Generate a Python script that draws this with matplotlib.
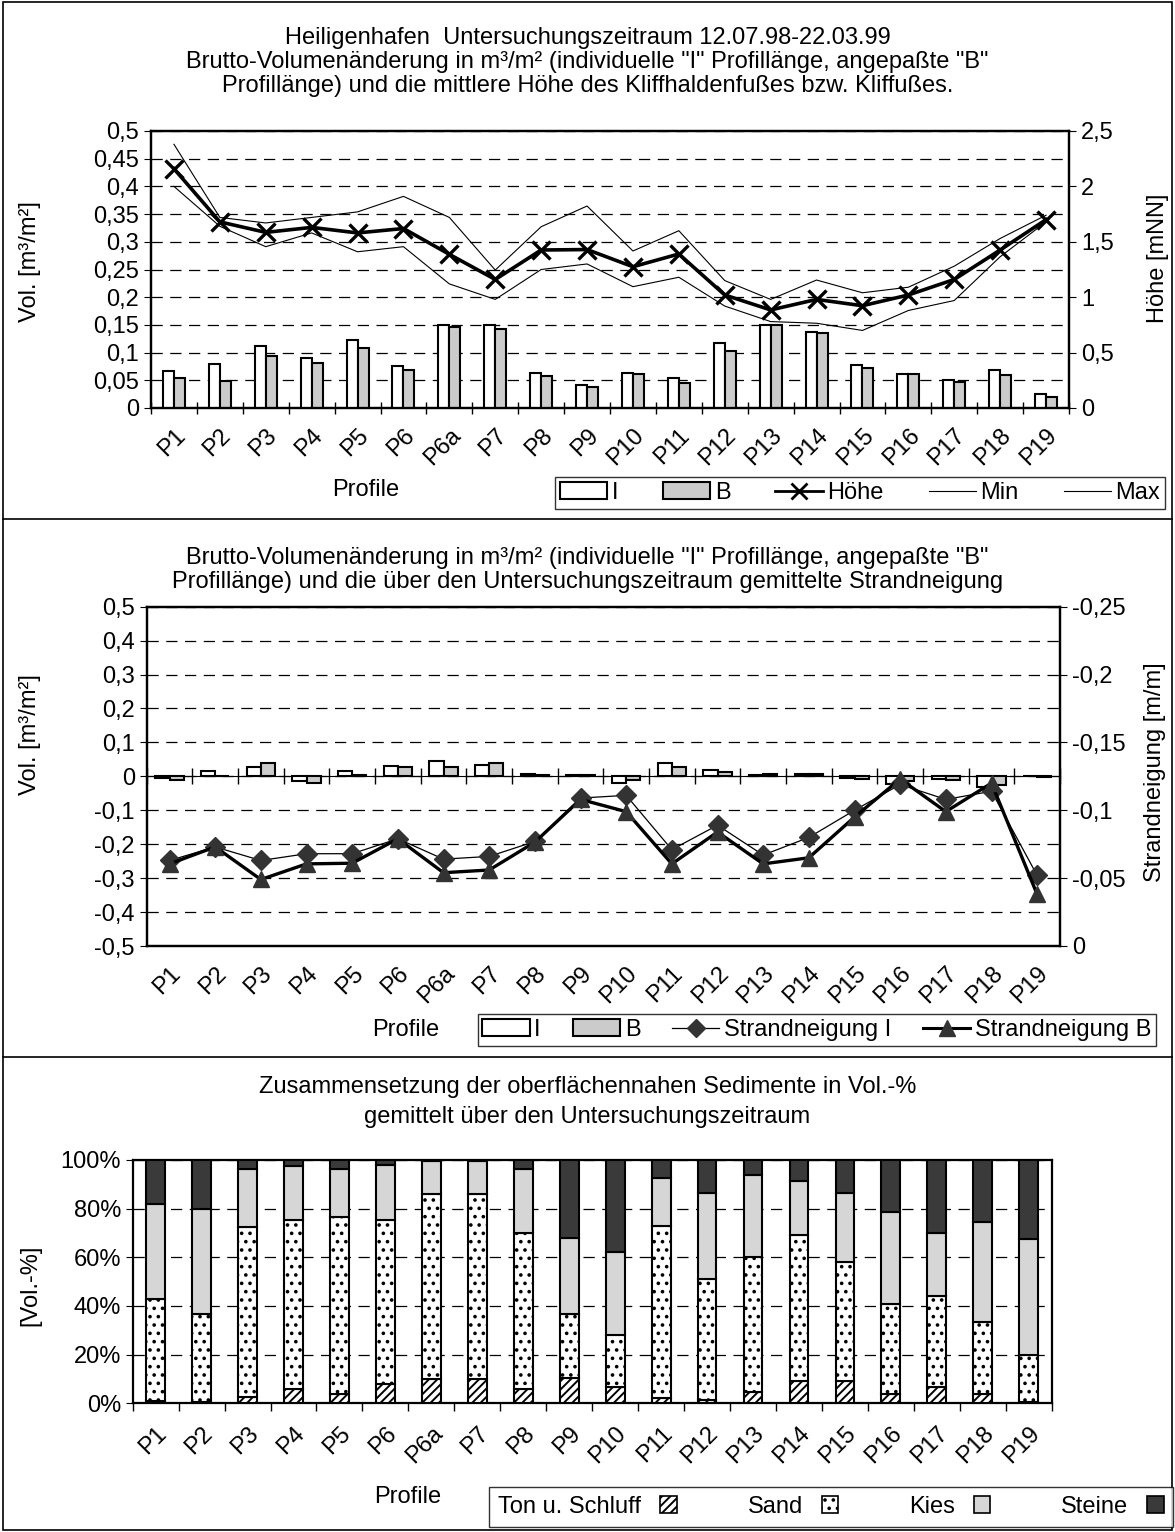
import numpy as np
import matplotlib
matplotlib.use("Agg")
import matplotlib.pyplot as plt
from matplotlib.lines import Line2D
from matplotlib.patches import Patch
from matplotlib.ticker import FuncFormatter

plt.rcParams['font.family'] = ['Liberation Sans', 'DejaVu Sans']
plt.rcParams['hatch.linewidth'] = 1.4

profile = ["P1", "P2", "P3", "P4", "P5", "P6", "P6a", "P7", "P8", "P9", "P10",
           "P11", "P12", "P13", "P14", "P15", "P16", "P17", "P18", "P19"]

# chart 1: Volumenaenderung und Hoehe Kliffhaldenfuss
vol_I = [0.067, 0.079, 0.112, 0.090, 0.123, 0.076, 0.149, 0.149, 0.064, 0.042,
         0.063, 0.054, 0.118, 0.149, 0.138, 0.078, 0.062, 0.051, 0.069, 0.025]
vol_B = [0.054, 0.048, 0.094, 0.082, 0.108, 0.069, 0.146, 0.143, 0.058, 0.038,
         0.062, 0.045, 0.103, 0.149, 0.135, 0.073, 0.061, 0.047, 0.060, 0.020]
hoehe = [2.16, 1.68, 1.585, 1.63, 1.58, 1.62, 1.387, 1.16, 1.426, 1.43,
         1.275, 1.39, 1.02, 0.885, 0.98, 0.923, 1.02, 1.16, 1.426, 1.70]
hoehe_max = [2.38, 1.72, 1.67, 1.72, 1.77, 1.91, 1.72, 1.245, 1.636, 1.823,
             1.417, 1.60, 1.15, 0.98, 1.155, 1.04, 1.09, 1.28, 1.53, 1.74]
hoehe_min = [2.0, 1.64, 1.456, 1.58, 1.41, 1.456, 1.12, 0.98, 1.25, 1.30,
             1.095, 1.18, 0.92, 0.78, 0.765, 0.70, 0.88, 0.97, 1.365, 1.68]

# chart 2: Volumenaenderung und Strandneigung
vol2_I = [-0.006, 0.015, 0.028, -0.015, 0.017, 0.031, 0.046, 0.032, 0.006, 0.005,
          -0.02, 0.038, 0.019, 0.004, 0.008, -0.005, -0.022, -0.008, -0.03, 0.002]
vol2_B = [-0.012, 0.002, 0.038, -0.02, 0.003, 0.029, 0.029, 0.038, 0.005, 0.004,
          -0.01, 0.028, 0.013, 0.007, 0.008, -0.007, -0.015, -0.01, -0.025, -0.002]
neig_I = [-0.063, -0.073, -0.063, -0.068, -0.068, -0.079, -0.064, -0.066, -0.077, -0.109,
          -0.111, -0.071, -0.089, -0.067, -0.080, -0.100, -0.119, -0.108, -0.114, -0.052]
neig_B = [-0.0605, -0.073, -0.049, -0.0605, -0.061, -0.079, -0.054, -0.056, -0.0765, -0.108,
          -0.099, -0.0605, -0.084, -0.0605, -0.065, -0.095, -0.123, -0.099, -0.120, -0.038]

# chart 3: Sedimentzusammensetzung in Vol.-%
ton = [1, 0.5, 2.5, 6, 4, 8, 10, 10, 6, 10.5, 6.5, 2, 1.5, 4.5, 9, 9, 4, 6.5, 4, 0.5]
sand = [42, 36, 70, 69.5, 72.5, 67.5, 76, 76, 64, 26, 21.5, 71, 49.5, 55.5, 60, 49, 37, 37.5, 29.5, 19.5]
kies = [39, 43.5, 24, 22, 20, 22.5, 13.5, 13.5, 26.5, 31.5, 34, 19.5, 35.5, 34, 22.5, 28.5, 37.5, 26, 41, 47.5]
steine = [18, 20, 3.5, 2.5, 3.5, 2, 0.5, 0.5, 3.5, 32, 38, 7.5, 13.5, 6, 8.5, 13.5, 21.5, 30, 25.5, 32.5]

W, H = 1175, 1532
FS = 17
fig = plt.figure(figsize=(W / 100, H / 100), dpi=100)


def box(x0, y0, x1, y1):
    return [x0 / W, 1 - y1 / H, (x1 - x0) / W, (y1 - y0) / H]


def comma(v, pos=None):
    v = round(v, 4) + 0.0
    if v == 0:
        return '0'
    return ('%g' % v).replace('.', ',')


x = np.arange(len(profile))
edges = np.arange(len(profile) + 1) - 0.5
grid_kw = dict(color='black', linestyle=(0, (9, 6)), linewidth=0.9)


def style_cat_axis(ax, tick_dir):
    ax.set_xlim(-0.5, len(profile) - 0.5)
    ax.set_xticks(edges)
    ax.set_xticklabels([])
    ax.set_xticks(x, minor=True)
    ax.set_xticklabels(profile, minor=True, rotation=45, ha='right',
                       rotation_mode='anchor', fontsize=FS)
    ax.tick_params(axis='x', which='minor', length=0, pad=12)
    ax.tick_params(axis='x', which='major', direction=tick_dir, length=9, width=1)
    for s in ax.spines.values():
        s.set_linewidth(1.6)


# ---------- chart 1 ----------
ax1 = fig.add_axes(box(151, 131, 1069, 408))
bw = 0.24
ax1.bar(x - bw / 2, vol_I, bw, color='white', edgecolor='black', linewidth=1.5, zorder=3)
ax1.bar(x + bw / 2, vol_B, bw, color='#cbcbcb', edgecolor='black', linewidth=1.5, zorder=3)
ax1.set_ylim(0, 0.5)
ax1.set_yticks(np.arange(0, 0.51, 0.05))
ax1.yaxis.set_major_formatter(FuncFormatter(comma))
ax1.tick_params(axis='y', labelsize=FS, length=5)
ax1.yaxis.grid(True, **grid_kw)
ax1.set_axisbelow(True)
style_cat_axis(ax1, 'inout')

ax1r = ax1.twinx()
ax1r.plot(x, hoehe_max, color='black', linewidth=0.8)
ax1r.plot(x, hoehe_min, color='black', linewidth=0.8)
ax1r.plot(x, hoehe, color='black', linewidth=2.6, marker='x', markersize=13, markeredgewidth=2.4)
ax1r.set_ylim(0, 2.5)
ax1r.set_yticks(np.arange(0, 2.51, 0.5))
ax1r.yaxis.set_major_formatter(FuncFormatter(comma))
ax1r.tick_params(axis='y', labelsize=FS, length=5)
for s in ax1r.spines.values():
    s.set_linewidth(1.6)

fig.text(0.5, 1 - 38 / H, 'Heiligenhafen  Untersuchungszeitraum 12.07.98-22.03.99',
         ha='center', va='center', fontsize=FS)
fig.text(0.5, 1 - 62 / H, 'Brutto-Volumenänderung in m³/m² (individuelle "I" Profillänge, angepaßte "B"',
         ha='center', va='center', fontsize=FS)
fig.text(0.5, 1 - 86 / H, 'Profillänge) und die mittlere Höhe des Kliffhaldenfußes bzw. Kliffußes.',
         ha='center', va='center', fontsize=FS)
fig.text(30 / W, 1 - 262 / H, 'Vol. [m³/m²]', rotation=90, ha='center', va='center', fontsize=FS)
fig.text(1158 / W, 1 - 258 / H, 'Höhe [mNN]', rotation=90, ha='center', va='center', fontsize=FS)
fig.text(366 / W, 1 - 490 / H, 'Profile', ha='center', va='center', fontsize=FS)

h1 = [Patch(facecolor='white', edgecolor='black', linewidth=1.5),
      Patch(facecolor='#cbcbcb', edgecolor='black', linewidth=1.5),
      Line2D([], [], color='black', linewidth=2, marker='x', markersize=11, markeredgewidth=2),
      Line2D([], [], color='black', linewidth=0.8),
      Line2D([], [], color='black', linewidth=0.8)]
leg1 = fig.legend(h1, ['I', 'B', 'Höhe', 'Min', 'Max'], ncol=5, loc='center',
                  bbox_to_anchor=(860 / W, 1 - 493 / H), fontsize=FS, frameon=True,
                  fancybox=False, edgecolor='black', borderpad=0.2, handlelength=2.0,
                  handletextpad=0.2, columnspacing=1.9, borderaxespad=0)
leg1.get_frame().set_linewidth(1.0)

# ---------- chart 2 ----------
ax2 = fig.add_axes(box(146.7, 606.7, 1060, 946))
bw2 = 0.31
ax2.bar(x - bw2 / 2, vol2_I, bw2, color='white', edgecolor='black', linewidth=1.5, zorder=3)
ax2.bar(x + bw2 / 2, vol2_B, bw2, color='#cbcbcb', edgecolor='black', linewidth=1.5, zorder=3)
ax2.set_ylim(-0.5, 0.5)
ax2.set_yticks(np.arange(-0.5, 0.51, 0.1))
ax2.yaxis.set_major_formatter(FuncFormatter(comma))
ax2.tick_params(axis='y', labelsize=FS, length=5)
ax2.yaxis.grid(True, **grid_kw)
ax2.set_axisbelow(True)
style_cat_axis(ax2, 'inout')
ax2.tick_params(axis='x', which='major', length=0)
zero_ax = ax2.secondary_xaxis(0.5)
zero_ax.set_xticks(edges)
zero_ax.set_xticklabels([])
zero_ax.tick_params(direction='inout', length=11, width=1)
zero_ax.spines['bottom'].set_linewidth(1.2)

ax2r = ax2.twinx()
ax2r.plot(x, neig_I, color='black', linewidth=0.9, marker='D', markersize=10,
          markerfacecolor='#333333', markeredgecolor='#333333')
ax2r.plot(x, neig_B, color='black', linewidth=2.4, marker='^', markersize=12,
          markerfacecolor='#333333', markeredgecolor='#333333')
ax2r.set_ylim(0, -0.25)
ax2r.set_yticks(np.arange(0, -0.251, -0.05))
ax2r.yaxis.set_major_formatter(FuncFormatter(comma))
ax2r.tick_params(axis='y', labelsize=FS, length=5)
for s in ax2r.spines.values():
    s.set_linewidth(1.6)

fig.text(0.5, 1 - 558 / H, 'Brutto-Volumenänderung in m³/m² (individuelle "I" Profillänge, angepaßte "B"',
         ha='center', va='center', fontsize=FS)
fig.text(0.5, 1 - 582 / H, 'Profillänge) und die über den Untersuchungszeitraum gemittelte Strandneigung',
         ha='center', va='center', fontsize=FS)
fig.text(30 / W, 1 - 735 / H, 'Vol. [m³/m²]', rotation=90, ha='center', va='center', fontsize=FS)
fig.text(1155 / W, 1 - 772 / H, 'Strandneigung [m/m]', rotation=90, ha='center', va='center', fontsize=FS)
fig.text(406 / W, 1 - 1030 / H, 'Profile', ha='center', va='center', fontsize=FS)

h2 = [Patch(facecolor='white', edgecolor='black', linewidth=1.5),
      Patch(facecolor='#cbcbcb', edgecolor='black', linewidth=1.5),
      Line2D([], [], color='black', linewidth=0.9, marker='D', markersize=9,
             markerfacecolor='#333333', markeredgecolor='#333333'),
      Line2D([], [], color='black', linewidth=2.2, marker='^', markersize=11,
             markerfacecolor='#333333', markeredgecolor='#333333')]
leg2 = fig.legend(h2, ['I', 'B', 'Strandneigung I', 'Strandneigung B'], ncol=4, loc='center',
                  bbox_to_anchor=(817 / W, 1 - 1030 / H), fontsize=FS, frameon=True,
                  fancybox=False, edgecolor='black', borderpad=0.2, handlelength=2.0,
                  handletextpad=0.2, columnspacing=1.35, borderaxespad=0)
leg2.get_frame().set_linewidth(1.0)

# ---------- chart 3 ----------
ax3 = fig.add_axes(box(132.7, 1160, 1051.7, 1403.3))
bw3 = 0.41
b0 = np.zeros(len(profile))
styles = [(ton, 'white', '////'), (sand, 'white', '..'), (kies, '#d6d6d6', None), (steine, '#3a3a3a', None)]
for vals, fc, hatch in styles:
    ax3.bar(x, vals, bw3, bottom=b0, color=fc, hatch=hatch, edgecolor='black', linewidth=1.5, zorder=3)
    b0 = b0 + np.array(vals)
ax3.set_ylim(0, 100)
ax3.set_yticks(np.arange(0, 101, 20))
ax3.yaxis.set_major_formatter(FuncFormatter(lambda v, p: '%d%%' % v))
ax3.tick_params(axis='y', labelsize=FS, length=5)
ax3.yaxis.grid(True, **grid_kw)
ax3.set_axisbelow(True)
style_cat_axis(ax3, 'out')
ax3.tick_params(axis='x', which='major', length=6)
ax3.tick_params(axis='x', which='minor', pad=14)

fig.text(0.5, 1 - 1087 / H, 'Zusammensetzung der oberflächennahen Sedimente in Vol.-%',
         ha='center', va='center', fontsize=FS)
fig.text(0.5, 1 - 1117 / H, 'gemittelt über den Untersuchungszeitraum',
         ha='center', va='center', fontsize=FS)
fig.text(30 / W, 1 - 1285 / H, '[Vol.-%]', rotation=90, ha='center', va='center', fontsize=FS)
fig.text(408 / W, 1 - 1497 / H, 'Profile', ha='center', va='center', fontsize=FS)

h3 = [Patch(facecolor='white', edgecolor='black', hatch='////', linewidth=1.2),
      Patch(facecolor='white', edgecolor='black', hatch='..', linewidth=1.2),
      Patch(facecolor='#d6d6d6', edgecolor='black', linewidth=1.2),
      Patch(facecolor='#3a3a3a', edgecolor='black', linewidth=1.2)]
leg3 = fig.legend(h3, ['Ton u. Schluff', 'Sand', 'Kies', 'Steine'], ncol=4, loc='center',
                  bbox_to_anchor=(831 / W, 1 - 1507 / H), fontsize=FS, frameon=True,
                  fancybox=False, edgecolor='black', borderpad=0.4, handlelength=0.7,
                  handleheight=0.7, handletextpad=0.8, columnspacing=3.0, markerfirst=False,
                  borderaxespad=0)
leg3.get_frame().set_linewidth(1.0)

# panel frames
for y in (519, 1057):
    fig.add_artist(Line2D([3 / W, 1172 / W], [1 - y / H, 1 - y / H], color='black', linewidth=1.2))
fig.add_artist(plt.Rectangle((3 / W, 1 - 1530 / H), 1169 / W, 1528 / H, fill=False,
                             edgecolor='black', linewidth=1.2))

fig.savefig('out.png', dpi=100, facecolor='white')
